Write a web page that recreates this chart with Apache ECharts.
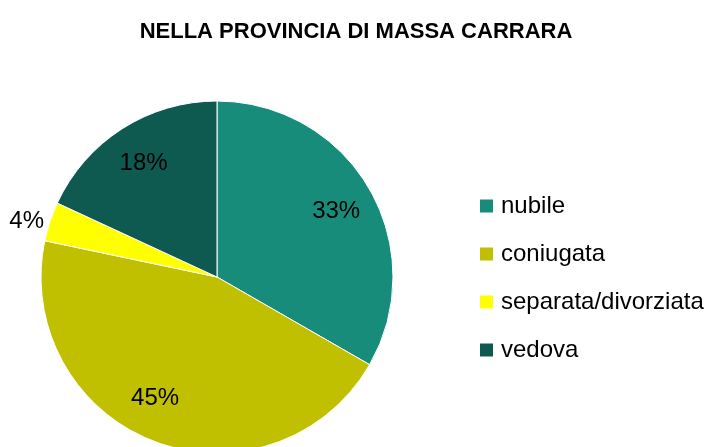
<!DOCTYPE html>
<html>
<head>
<meta charset="utf-8">
<script src="https://cdn.jsdelivr.net/npm/echarts@6/dist/echarts.min.js"></script>
<style>
  html, body { margin: 0; padding: 0; background: #fff; }
  #chart { width: 712px; height: 447px; }
</style>
</head>
<body>
<div id="chart"></div>
<script>
// stato civile femminile, quota percentuale
const categories = ['nubile', 'coniugata', 'separata/divorziata', 'vedova'];
const values = [33.3, 45.0, 3.6, 18.1];
const colors = ['#178c7b', '#c0bf00', '#ffff00', '#0e5a50'];
const labelOffsets = [[-2, 5], [-12, -9], [0, 0], [2, 4]];

const font = 'Liberation Sans, Arial, sans-serif';
const center = [217, 277];

let pieData = categories.map((name, i) => ({
  name: name,
  value: values[i],
  itemStyle: { color: colors[i] }
}));

// second transparent ring only to carry the labels further out
let labelData = categories.map((name, i) => {
  let item = { name: name, value: values[i], label: { offset: labelOffsets[i] } };
  if (name === 'separata/divorziata') {
    item.label = { position: 'outside', overflow: 'none', width: 60 };
    item.labelLine = { show: false, length: 1, length2: 0 };
  }
  return item;
});

let myChart = echarts.init(document.getElementById('chart'));
myChart.setOption({
  animation: false,
  title: {
    text: 'NELLA PROVINCIA DI MASSA CARRARA',
    left: 'center',
    top: 16,
    textStyle: { fontFamily: font, fontSize: 22, fontWeight: 'bold', color: '#000' }
  },
  legend: {
    orient: 'vertical',
    left: 473,
    top: 189,
    data: categories,
    icon: 'rect',
    itemWidth: 15,
    itemHeight: 15,
    itemGap: 24,
    textStyle: { fontFamily: font, fontSize: 24, color: '#000', padding: [0, 0, 0, 2] }
  },
  series: [
    {
      type: 'pie',
      center: center,
      radius: [0, 176],
      startAngle: 90,
      clockwise: true,
      data: pieData,
      label: { show: false },
      labelLine: { show: false },
      itemStyle: { borderColor: '#fff', borderWidth: 1 },
      emphasis: { disabled: true }
    },
    {
      type: 'pie',
      center: center,
      radius: [98, 176],
      startAngle: 90,
      clockwise: true,
      data: labelData,
      silent: true,
      itemStyle: { color: 'rgba(0,0,0,0)' },
      label: {
        show: true,
        position: 'inside',
        formatter: p => Math.round(p.value) + '%',
        fontFamily: font,
        fontSize: 24,
        color: '#000'
      },
      labelLine: { show: false },
      emphasis: { disabled: true }
    }
  ]
});
</script>
</body>
</html>
